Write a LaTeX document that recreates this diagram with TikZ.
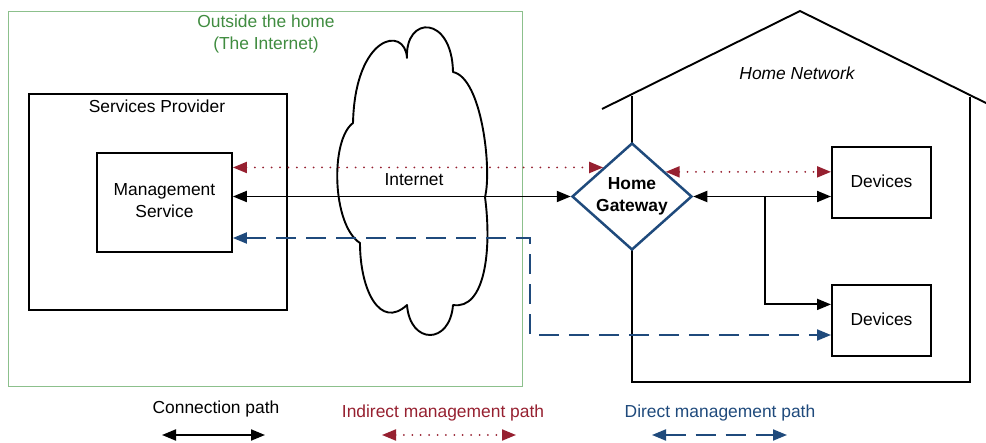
\documentclass[tikz,border=0pt]{standalone}
\usepackage{fontspec}
\setmainfont{Liberation Sans}
\usetikzlibrary{arrows.meta,shapes.geometric,calc}

\definecolor{outsidetext}{RGB}{64,140,64}
\definecolor{outsideline}{RGB}{140,192,140}
\definecolor{indirectred}{RGB}{150,32,48}
\definecolor{directblue}{RGB}{31,74,124}

\begin{document}
\begin{tikzpicture}[x=1pt,y=-1pt,
  txt/.style={font=\fontsize{17.4}{22}\selectfont, inner sep=0pt, align=center},
  box/.style={draw=black, line width=1.9pt, fill=white, inner sep=0pt},
  conn/.style={line width=1.9pt, {Triangle[length=14pt,width=11pt]}-{Triangle[length=14pt,width=11pt]}},
  connone/.style={line width=1.9pt, -{Triangle[length=14pt,width=11pt]}},
  indirect/.style={draw=indirectred, line width=2pt, line cap=round,
    dash pattern=on 0pt off 8.4pt,
    {Triangle[length=14pt,width=11pt]}-{Triangle[length=14pt,width=11pt]}},
  direct/.style={draw=directblue, line width=2pt,
    dash pattern=on 20pt off 10pt,
    {Triangle[length=14pt,width=11pt]}-{Triangle[length=14pt,width=11pt]}},
]
\useasboundingbox (0,0) rectangle (986,443);

% Outside the home
\node[draw=outsideline, line width=1.3pt, minimum width=514pt, minimum height=375pt,
      anchor=north west, inner sep=0pt] (outside) at (8,11) {};
\node[txt, text=outsidetext] (outlbl) at (266,34) {Outside the home\\(The Internet)};

% Services provider and management service
\node[box, minimum width=258pt, minimum height=216pt, anchor=north west] (sp) at (28,93) {};
\node[txt] (splbl) at (157,106) {Services Provider};
\node[box, minimum width=135pt, minimum height=99pt, anchor=north west] (mgmt) at (96,152) {};
\node[txt] (mgmtlbl) at ($(mgmt.center)+(0,-2)$) {Management\\Service};

% Internet cloud
\draw[line width=1.9pt, line join=round]
  (353,123) .. controls (355,35) and (405,25) .. (407,58)
            .. controls (405,15) and (452,15) .. (453,72)
            .. controls (482,78) and (492,170) .. (485,197)
            .. controls (492,250) and (485,310) .. (453,305)
            .. controls (450,345) and (410,345) .. (407,305)
            .. controls (380,330) and (360,290) .. (360,243)
            .. controls (332,225) and (330,140) .. cycle;
\node[txt] (inetlbl) at (414,180) {Internet};

% House outline
\draw[line width=1.9pt, line join=miter] (602,109) -- (800,11) -- (990,105);
\draw[line width=1.9pt] (632,96) -- (632,382) -- (970,382) -- (970,97);
\node[txt, font=\fontsize{17.4}{22}\selectfont\itshape] (homelbl) at (797,73) {Home Network};

% Home gateway
\node[diamond, draw=directblue, line width=2.5pt, fill=white, aspect=1.13,
      minimum width=120pt, minimum height=107pt, inner sep=0pt] (gw) at (632,196.5) {};
\node[txt, font=\fontsize{17.4}{22}\selectfont\bfseries] (gwlbl) at (gw.center) {Home\\Gateway};

% Devices
\node[box, minimum width=99pt, minimum height=71pt, anchor=north west] (dev1) at (831,146) {};
\node[txt] (dev1lbl) at ($(dev1.center)+(0,-1.5)$) {Devices};
\node[box, minimum width=99pt, minimum height=71pt, anchor=north west] (dev2) at (831,284) {};
\node[txt] (dev2lbl) at ($(dev2.center)+(0,-1.5)$) {Devices};

% Connection paths
\coordinate (branch) at (765,196);
\draw[conn] (gw.west -| mgmt.east) -- (gw.west);
\draw[conn] (gw.east) -- (gw.east -| dev1.west);
\draw[connone] (branch) |- ($(dev2.north west)!0.28!(dev2.south west)$);

% Indirect management paths
\coordinate (gwl) at ($(gw.west)!0.53!(gw.north)$);
\coordinate (gwr) at ($(gw.north)!0.55!(gw.east)$);
\draw[indirect] (gwl -| mgmt.east) -- (gwl);
\draw[indirect] (gwr) -- (gwr -| dev1.west);

% Direct management path
\coordinate (dtop) at (530,238);
\coordinate (dbot) at (530,335);
\draw[direct] (dtop -| mgmt.east) -- (dtop) -- (dbot) -- (dbot -| dev2.west);

% Legend
\node[txt] (leg1) at (216,409) {Connection path};
\node[txt, text=indirectred] (leg2) at (443,413) {Indirect management path};
\node[txt, text=directblue] (leg3) at (720,413) {Direct management path};
\coordinate (l1a) at (162,435); \coordinate (l1b) at (265,435);
\coordinate (l2a) at (382,435); \coordinate (l2b) at (516,435);
\coordinate (l3a) at (652,435); \coordinate (l3b) at (787,435);
\draw[conn] (l1a) -- (l1b);
\draw[indirect] (l2a) -- (l2b);
\draw[direct] (l3a) -- (l3b);
\end{tikzpicture}
\end{document}
